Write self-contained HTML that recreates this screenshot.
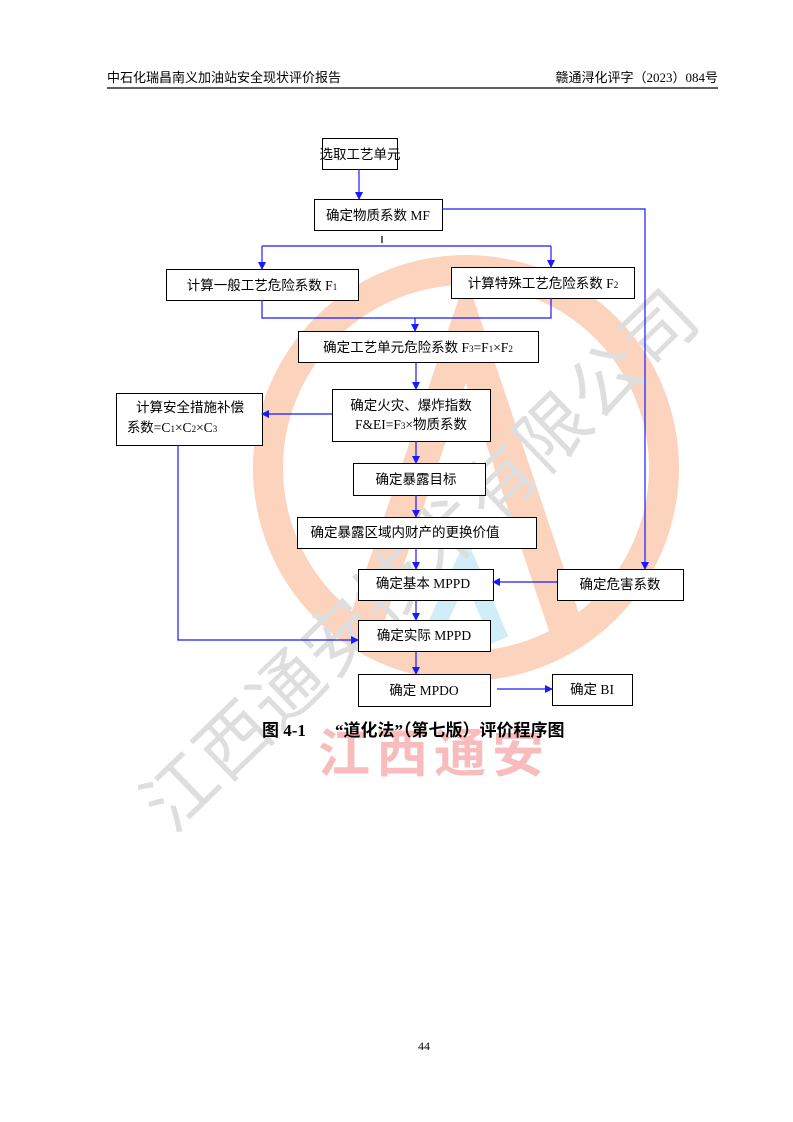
<!DOCTYPE html>
<html><head><meta charset="utf-8">
<style>
html,body{margin:0;padding:0;background:#fff;}
svg{display:block;}
text{font-family:"Liberation Serif","Noto Sans CJK SC",sans-serif;}
</style></head>
<body>
<svg width="793" height="1122" viewBox="0 0 793 1122" xmlns="http://www.w3.org/2000/svg">
<defs>
<marker id="a" markerWidth="8" markerHeight="8" refX="7" refY="4" orient="auto" markerUnits="userSpaceOnUse">
<path d="M0,0 L8,4 L0,8 z" fill="#1a1aff"/></marker>
</defs>
<!-- watermark -->
<circle cx="466" cy="468" r="198" fill="none" stroke="#fcd3bd" stroke-width="30"/>
<path d="M360,640 L466,330 L570,640" fill="none" stroke="#fcd3bd" stroke-width="34"/>
<path d="M430,640 L466,560 L500,640" fill="none" stroke="#cfeef8" stroke-width="18"/>
<text x="0" y="0" transform="translate(172,835) rotate(-44)" font-size="72" fill="#dedede" font-family="Noto Sans CJK SC,sans-serif" letter-spacing="2">江西通安技术有限公司</text>
<text x="318" y="772" font-size="52" fill="#f8bcbc" font-family="Noto Sans CJK SC,sans-serif" font-weight="bold" letter-spacing="6">江西通安</text>

<!-- header -->
<text x="107" y="82" font-size="13" font-family="Noto Sans CJK SC,sans-serif">中石化瑞昌南义加油站安全现状评价报告</text>
<text x="718" y="82" font-size="13" text-anchor="end" font-family="Noto Sans CJK SC,sans-serif">赣通浔化评字（2023）084号</text>
<line x1="107" y1="88" x2="718" y2="88" stroke="#000" stroke-width="1.2"/>

<g fill="#fff" stroke="#000" stroke-width="1">
<rect x="322.5" y="138.5" width="75" height="31"/>
<rect x="314.5" y="199.5" width="128" height="31"/>
<rect x="166.5" y="269.5" width="192" height="31"/>
<rect x="451.5" y="267.5" width="183" height="31"/>
<rect x="298.5" y="331.5" width="240" height="31"/>
<rect x="116.5" y="393.5" width="146" height="52"/>
<rect x="332.5" y="389.5" width="158" height="52"/>
<rect x="353.5" y="463.5" width="132" height="32"/>
<rect x="297.5" y="517.5" width="239" height="31"/>
<rect x="358.5" y="569.5" width="135" height="31"/>
<rect x="557.5" y="569.5" width="126" height="31"/>
<rect x="358.5" y="620.5" width="132" height="31"/>
<rect x="358.5" y="674.5" width="132" height="32"/>
<rect x="552.5" y="674.5" width="80" height="31"/>
</g>

<g stroke="#1a1aff" stroke-width="1.2" fill="none">
<line x1="359" y1="169" x2="359" y2="199" marker-end="url(#a)"/>
<polyline points="442,209 645,209 645,569" marker-end="url(#a)"/>
<line x1="382" y1="236" x2="382" y2="243" stroke="#000"/>
<line x1="262" y1="246" x2="551" y2="246"/>
<line x1="262" y1="246" x2="262" y2="269" marker-end="url(#a)"/>
<line x1="551" y1="246" x2="551" y2="267" marker-end="url(#a)"/>
<polyline points="262,300 262,318 551,318 551,298"/>
<line x1="415" y1="318" x2="415" y2="331" marker-end="url(#a)"/>
<line x1="416" y1="362" x2="416" y2="389" marker-end="url(#a)"/>
<line x1="332" y1="414" x2="262" y2="414" marker-end="url(#a)"/>
<line x1="416" y1="441" x2="416" y2="463" marker-end="url(#a)"/>
<line x1="416" y1="495" x2="416" y2="517" marker-end="url(#a)"/>
<line x1="416" y1="548" x2="416" y2="569" marker-end="url(#a)"/>
<line x1="557" y1="582" x2="493" y2="582" marker-end="url(#a)"/>
<line x1="416" y1="600" x2="416" y2="620" marker-end="url(#a)"/>
<line x1="416" y1="651" x2="416" y2="674" marker-end="url(#a)"/>
<line x1="497" y1="689" x2="552" y2="689" marker-end="url(#a)"/>
<polyline points="178,445 178,640 358,640" marker-end="url(#a)"/>
</g>

<g font-size="13.5" text-anchor="middle" font-family="Liberation Serif,Noto Sans CJK SC,sans-serif">
<text x="360" y="159">选取工艺单元</text>
<text x="378" y="220">确定物质系数 MF</text>
<text x="262" y="290">计算一般工艺危险系数 F<tspan font-size="9">1</tspan></text>
<text x="543" y="288">计算特殊工艺危险系数 F<tspan font-size="9">2</tspan></text>
<text x="418" y="352">确定工艺单元危险系数 F<tspan font-size="9">3</tspan>=F<tspan font-size="9">1</tspan>×F<tspan font-size="9">2</tspan></text>
<text x="190" y="412">计算安全措施补偿</text>
<text x="172" y="432" text-anchor="middle">系数=C<tspan font-size="9">1</tspan>×C<tspan font-size="9">2</tspan>×C<tspan font-size="9">3</tspan></text>
<text x="411" y="410">确定火灾、爆炸指数</text>
<text x="411" y="429">F&amp;EI=F<tspan font-size="9">3</tspan>×物质系数</text>
<text x="416" y="484">确定暴露目标</text>
<text x="405" y="537">确定暴露区域内财产的更换价值</text>
<text x="423" y="588">确定基本 MPPD</text>
<text x="620" y="589">确定危害系数</text>
<text x="424" y="640">确定实际 MPPD</text>
<text x="424" y="695">确定 MPDO</text>
<text x="592" y="694">确定 BI</text>
</g>

<text x="262" y="736" font-size="17" font-weight="bold" font-family="Liberation Serif,Noto Serif CJK SC,serif">图 4-1</text>
<text x="335" y="736" font-size="17" font-weight="bold" font-family="Liberation Serif,Noto Serif CJK SC,serif">“道化法”（第七版）评价程序图</text>

<text x="424" y="1050" font-size="12" text-anchor="middle">44</text>
</svg>
</body></html>
